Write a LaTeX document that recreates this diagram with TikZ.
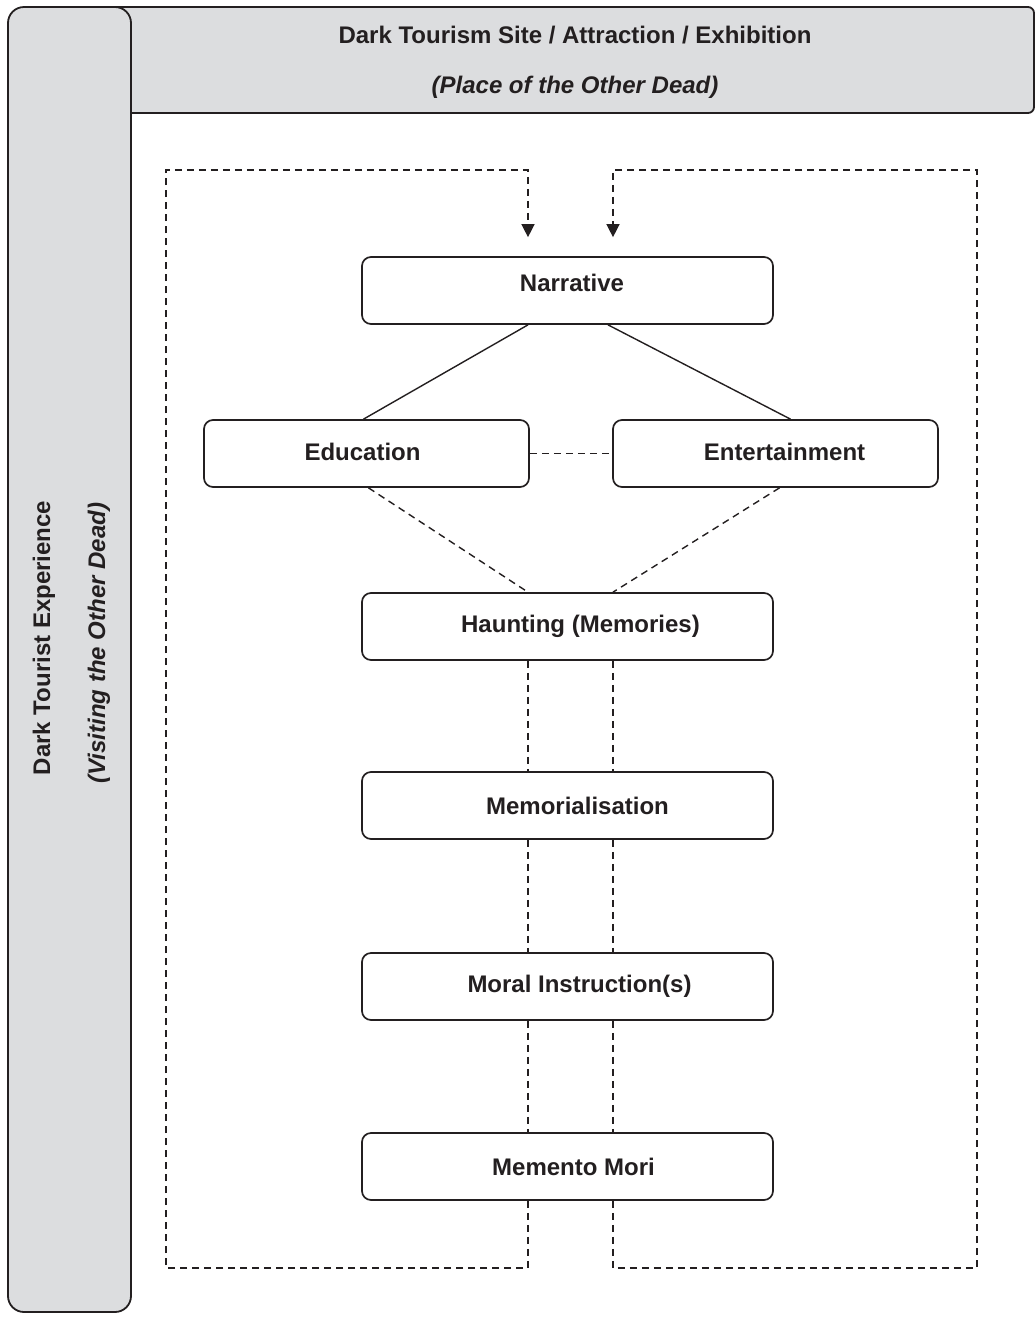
\documentclass[tikz,border=0pt]{standalone}
\usepackage{fontspec}
\setmainfont{Liberation Sans}
\usetikzlibrary{arrows.meta}
\definecolor{bandgray}{HTML}{DCDDDF}
\definecolor{ink}{HTML}{231F20}
\begin{document}
\begin{tikzpicture}[x=1pt,y=-1pt,
  every node/.style={font=\fontsize{24}{28}\selectfont\bfseries, text=ink},
  box/.style={draw=ink, line width=1.7pt, rounded corners=9pt, fill=white, minimum height=67pt, inner sep=0pt},
  widebox/.style={box, minimum width=411pt},
  sidebox/.style={box, minimum width=325pt},
  tshift/.style={execute at begin node={\hspace*{#1}}},
  dashline/.style={draw=ink, line width=1.4pt, dash pattern=on 7pt off 5pt},
  solidline/.style={draw=ink, line width=1.4pt},
  band/.style={draw=ink, line width=1.8pt, fill=bandgray}]
\useasboundingbox (0,0) rectangle (1035,1318);
% frame bands
\draw[band, rounded corners=6pt] (100,7) rectangle (1034,113);
\draw[band, rounded corners=16pt] (8,7) rectangle (131,1312);
\node (toptitle) at (575,35) {Dark Tourism Site / Attraction / Exhibition};
\node[font=\fontsize{24}{28}\selectfont\bfseries\itshape] (topsub) at (575,87) {(Place of the Other Dead)};
\node[rotate=90] (sidetitle) at (44,638) {Dark Tourist Experience};
\node[rotate=90, font=\fontsize{24}{28}\selectfont\bfseries\itshape] (sidesub) at (99,643) {(Visiting the Other Dead)};
% nodes
\node[widebox, tshift=9pt] (nar) at (567.5,290.5) {\raisebox{16pt}{Narrative}};
\node[sidebox] (edu) at (366.5,453.5) {\hspace*{-8pt}\raisebox{4pt}{Education}};
\node[sidebox, tshift=18pt] (ent) at (775.5,453.5) {\raisebox{4pt}{Entertainment}};
\node[widebox, tshift=26pt] (hau) at (567.5,626.5) {Haunting (Memories)};
\node[widebox, tshift=20pt] (mem) at (567.5,805.5) {Memorialisation};
\node[widebox, tshift=24pt] (mor) at (567.5,986.5) {Moral Instruction(s)};
\node[widebox, tshift=12pt] (mm) at (567.5,1166.5) {Memento Mori};
% helper coordinates
\coordinate (xl) at (528,0);
\coordinate (xr) at (613,0);
\coordinate (tl) at (166,170);
\coordinate (bl) at (166,1268);
\coordinate (tr) at (977,170);
\coordinate (br) at (977,1268);
% solid connectors
\draw[solidline] (nar.south -| xl) -- ([xshift=-3pt]edu.north);
\draw[solidline] ([xshift=-5pt]nar.south -| xr) -- ([xshift=15pt]ent.north);
% dashed connectors
\draw[dashline] (edu.east) -- (ent.west);
\draw[dashline] ([xshift=2pt]edu.south) -- (hau.north -| xl);
\draw[dashline] ([xshift=4pt]ent.south) -- (hau.north -| xr);
\foreach \a/\b in {hau/mem, mem/mor, mor/mm}{
  \draw[dashline] (\a.south -| xl) -- (\b.north -| xl);
  \draw[dashline] (\a.south -| xr) -- (\b.north -| xr);
}
% feedback loops
\draw[dashline, -{Triangle[length=13pt,width=13pt]}, shorten >=19pt]
  (mm.south -| xl) |- (bl) -- (tl) -| (nar.north -| xl);
\draw[dashline, -{Triangle[length=13pt,width=13pt]}, shorten >=19pt]
  (mm.south -| xr) |- (br) -- (tr) -| (nar.north -| xr);
\end{tikzpicture}
\end{document}
